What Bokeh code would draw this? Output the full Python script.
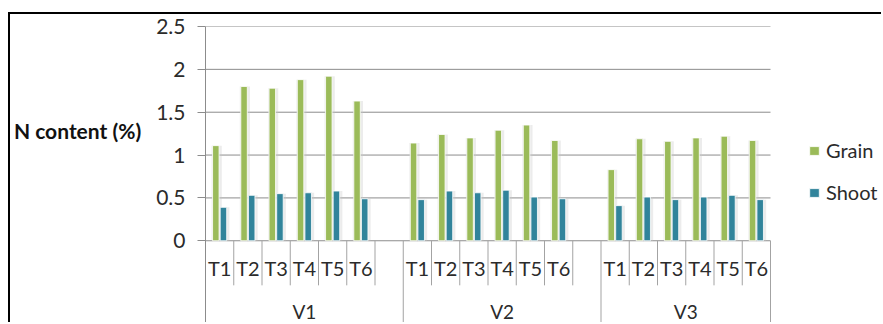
from bokeh.plotting import figure
from bokeh.models import (ColumnDataSource, FactorRange, Range1d, FixedTicker,
                          Legend, LegendItem)
from bokeh.transform import dodge
from bokeh.core.properties import value
from bokeh.embed import file_html
from bokeh.resources import INLINE

# ---- data -------------------------------------------------------------
varieties = ["V1", "V2", "V3"]
treatments = ["T1", "T2", "T3", "T4", "T5", "T6"]

grain_v1 = [1.11, 1.80, 1.78, 1.88, 1.92, 1.63]
grain_v2 = [1.14, 1.24, 1.20, 1.29, 1.35, 1.17]
grain_v3 = [0.83, 1.19, 1.16, 1.20, 1.22, 1.17]

shoot_v1 = [0.39, 0.53, 0.55, 0.56, 0.58, 0.49]
shoot_v2 = [0.48, 0.58, 0.56, 0.59, 0.51, 0.49]
shoot_v3 = [0.41, 0.51, 0.48, 0.51, 0.53, 0.48]

y_ticks = [0, 0.5, 1, 1.5, 2, 2.5]
y_tick_labels = ["0", "0.5", "1", "1.5", "2", "2.5"]

series_names = ["Grain", "Shoot"]
y_title = "N content (%)"

# ---- styling ----------------------------------------------------------
GREEN = "#9BBB59"
BLUE = "#31849B"
GRID = "#8c8c8c"
SEP = "#a3a3a3"
TEXT = "#2b2b2b"
FONT = "Lato"

# category slots: six treatments per variety, with an empty slot between varieties
factors = []
for i, v in enumerate(varieties):
    for t in treatments:
        factors.append((v, t))
    if i < len(varieties) - 1:
        factors.append((v, ""))
# unlabelled slots on the right that leave room for the legend
legend_slots = [("", "a"), ("", "b"), ("", "c"), ("", "d")]

grain = {"V1": grain_v1, "V2": grain_v2, "V3": grain_v3}
shoot = {"V1": shoot_v1, "V2": shoot_v2, "V3": shoot_v3}

bars = ColumnDataSource(dict(
    x=[(v, t) for v in varieties for t in treatments],
    grain=[g for v in varieties for g in grain[v]],
    shoot=[s for v in varieties for s in shoot[v]],
))

p = figure(width=873, height=310,
           x_range=FactorRange(*(factors + legend_slots), range_padding=0,
                               group_padding=0, subgroup_padding=0,
                               factor_padding=0),
           y_range=Range1d(-0.977, 2.5),
           output_backend="svg", toolbar_location=None,
           min_border_left=195, min_border_top=12, min_border_right=0,
           min_border_bottom=0, outline_line_color=None,
           x_axis_location=None)
p.styles = {"margin-left": "8px", "margin-top": "12px",
            "border-left": "2px solid #000", "border-top": "2px solid #000"}

# y axis, with a horizontal title lifted up to the middle of the bar area
ticker = FixedTicker(ticks=y_ticks)
ax = p.yaxis[0]
ax.ticker = ticker
ax.major_label_overrides = {t: s for t, s in zip(y_ticks, y_tick_labels)}
ax.axis_line_color = GRID
ax.major_tick_line_color = GRID
ax.major_tick_in = 0
ax.major_tick_out = 8
ax.minor_tick_line_color = None
ax.major_label_standoff = 12
ax.major_label_text_font = FONT
ax.major_label_text_font_size = "21px"
ax.major_label_text_color = TEXT
ax.axis_label = y_title + "\n\n\n"
ax.axis_label_orientation = "horizontal"
ax.axis_label_standoff = 12
ax.axis_label_text_font = FONT
ax.axis_label_text_font_size = "21px"
ax.axis_label_text_font_style = "bold"
ax.axis_label_text_color = "#111"

p.xgrid.grid_line_color = None
p.ygrid.grid_line_color = None

# horizontal gridlines across the category slots only
grid_src = ColumnDataSource(dict(y=y_ticks, x0=[factors[0]] * len(y_ticks),
                                 x1=[factors[-1]] * len(y_ticks)))
p.segment(x0=dodge("x0", -0.5, range=p.x_range), y0="y",
          x1=dodge("x1", 0.5, range=p.x_range), y1="y",
          source=grid_src, line_color=GRID, line_width=1)

# bar shadows
for col, off in (("grain", -0.135), ("shoot", 0.135)):
    p.vbar(x=dodge("x", off + 0.03, range=p.x_range), top=col, bottom=0,
           width=0.36, source=bars, fill_color="#c8c8c8", fill_alpha=0.35,
           line_color=None)

r_grain = p.vbar(x=dodge("x", -0.135, range=p.x_range), top="grain", bottom=0,
                 width=0.23, source=bars, fill_color=GREEN, line_color="white",
                 line_width=0.8)
r_shoot = p.vbar(x=dodge("x", 0.135, range=p.x_range), top="shoot", bottom=0,
                 width=0.23, source=bars, fill_color=BLUE, line_color="white",
                 line_width=0.8)

# category table below the bars
first_in_group = [f for i, f in enumerate(factors) if i == 0 or f[0] != factors[i - 1][0]]
short_src = ColumnDataSource(dict(x=[f for f in factors if f not in first_in_group]))
long_src = ColumnDataSource(dict(x=first_in_group))
end_src = ColumnDataSource(dict(x=[factors[-1]]))

p.segment(x0=dodge("x", -0.5, range=p.x_range), y0=0,
          x1=dodge("x", -0.5, range=p.x_range), y1=-0.52,
          source=short_src, line_color=SEP, line_width=1)
p.segment(x0=dodge("x", -0.5, range=p.x_range), y0=0,
          x1=dodge("x", -0.5, range=p.x_range), y1=-1.0,
          source=long_src, line_color=SEP, line_width=1)
p.segment(x0=dodge("x", 0.5, range=p.x_range), y0=0,
          x1=dodge("x", 0.5, range=p.x_range), y1=-1.0,
          source=end_src, line_color=SEP, line_width=1)

tlabels = ColumnDataSource(dict(x=factors, t=[f[1] for f in factors]))
p.text(x="x", y=-0.323, text="t", source=tlabels, text_align="center",
       text_baseline="middle", text_font=value(FONT), text_font_size="20px",
       text_color=TEXT)
vlabels = ColumnDataSource(dict(x=varieties, t=varieties))
p.text(x="x", y=-0.83, text="t", source=vlabels, text_align="center",
       text_baseline="middle", text_font=value(FONT), text_font_size="19px",
       text_color=TEXT)

legend = Legend(items=[LegendItem(label=series_names[0], renderers=[r_grain]),
                       LegendItem(label=series_names[1], renderers=[r_shoot])],
                location=(603, 120), border_line_color=None,
                background_fill_alpha=0, glyph_width=12, glyph_height=11,
                label_standoff=6, spacing=18, padding=0, margin=0,
                label_text_font=FONT, label_text_font_size="20px",
                label_text_color=TEXT)
p.add_layout(legend, "center")

open("out.html", "w").write(file_html(p, INLINE))
